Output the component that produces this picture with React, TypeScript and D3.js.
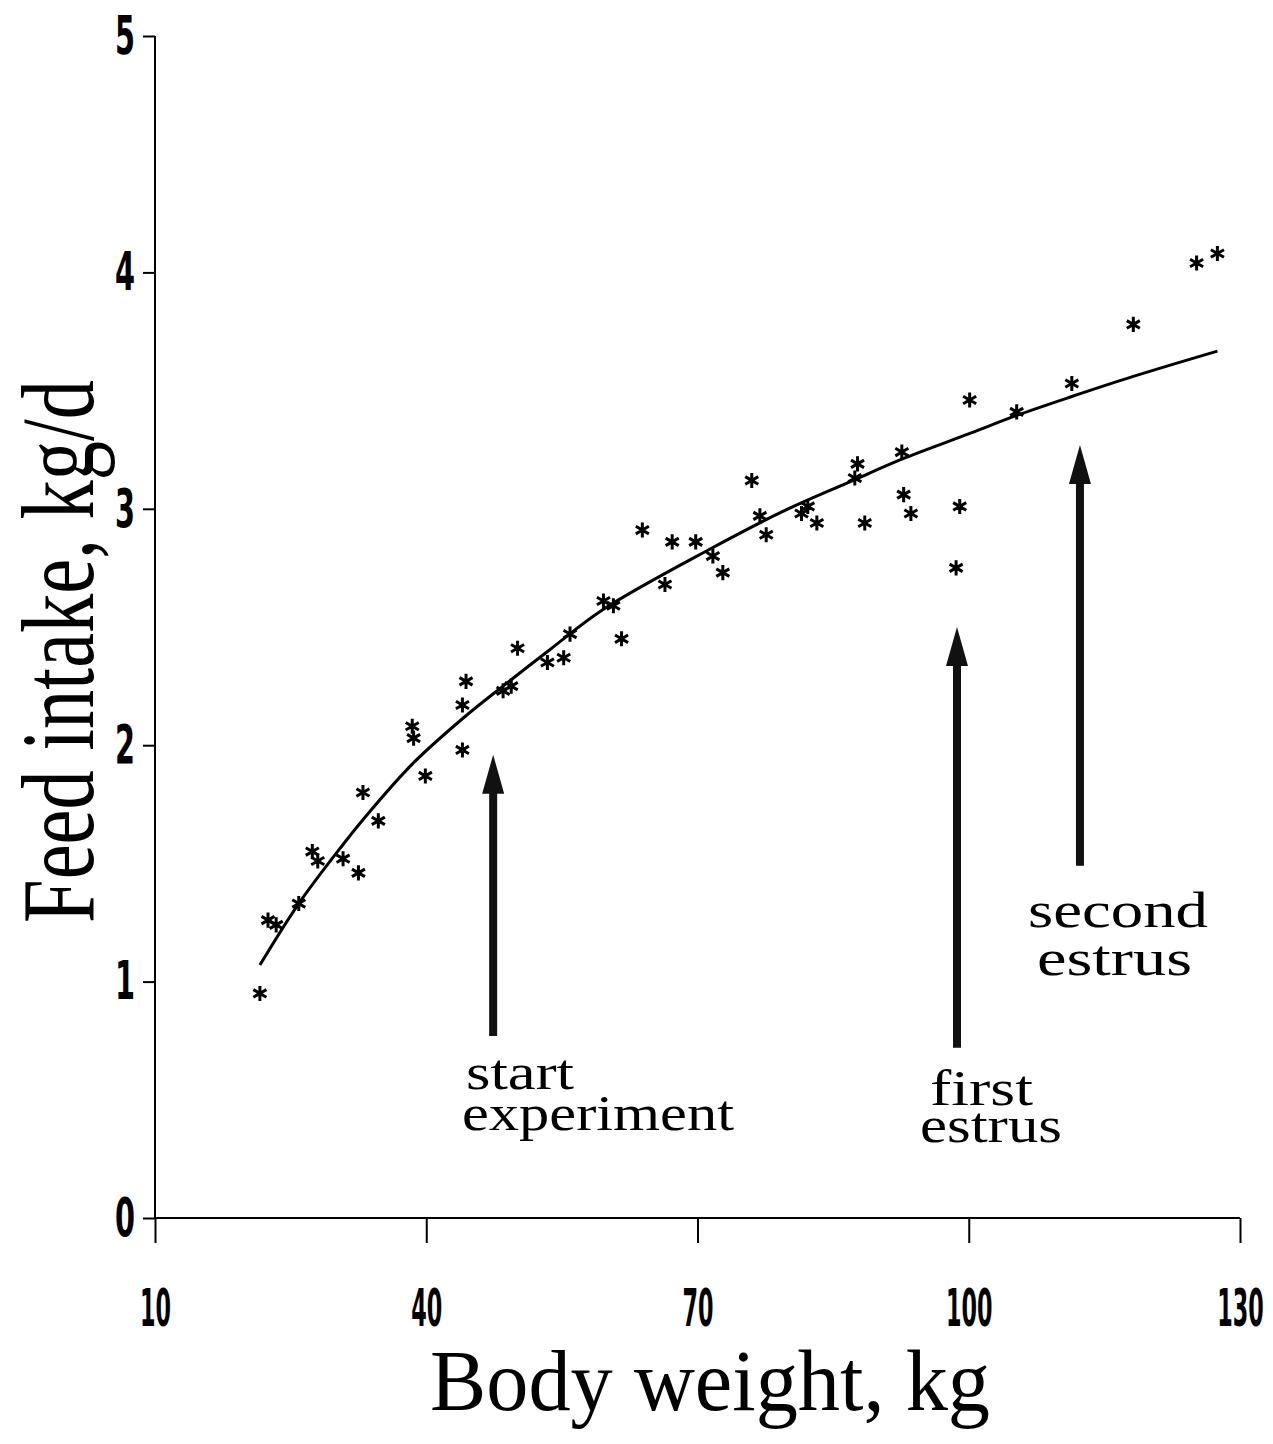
import React, { useEffect, useRef } from "react";
import { scaleLinear, axisBottom, axisLeft, select, line, curveCatmullRom, symbol, symbolAsterisk } from "d3";

// observed points
const bodyWeight = [21.6, 22.5, 23.4, 25.9, 27.4, 28.0, 30.8, 32.5, 33.0, 34.7, 38.45, 38.6, 39.9, 44.0, 44.0, 44.4, 48.5, 49.4, 50.1, 53.4, 55.2, 55.9, 59.6, 60.7, 61.6, 63.9, 66.4, 67.2, 69.8, 71.7, 72.8, 76.0, 76.9, 77.6, 81.5, 82.2, 83.2, 87.4, 87.7, 88.5, 92.6, 92.8, 93.6, 98.6, 99.0, 100.1, 105.3, 111.4, 118.2, 125.2, 127.5];
const feedIntake = [0.95, 1.26, 1.24, 1.33, 1.55, 1.51, 1.52, 1.46, 1.8, 1.68, 2.08, 2.03, 1.87, 1.98, 2.17, 2.27, 2.23, 2.25, 2.41, 2.35, 2.37, 2.47, 2.61, 2.59, 2.45, 2.91, 2.68, 2.86, 2.86, 2.8, 2.73, 3.12, 2.97, 2.89, 2.98, 3.01, 2.94, 3.13, 3.19, 2.94, 3.24, 3.06, 2.98, 2.75, 3.01, 3.46, 3.41, 3.53, 3.78, 4.04, 4.08];

// fitted curve
const fitWeight = [21.6, 25.9, 30.8, 33.0, 38.45, 44.1, 48.5, 53.7, 59.6, 71.4, 79.5, 86.9, 92.6, 100.2, 105.3, 111.4, 118.2, 127.5];
const fitIntake = [1.07, 1.33, 1.58, 1.685, 1.92, 2.115, 2.25, 2.405, 2.575, 2.83, 2.99, 3.115, 3.21, 3.32, 3.395, 3.475, 3.56, 3.667];

const xTicks = [10, 40, 70, 100, 130];
const yTicks = [0, 1, 2, 3, 4, 5];

// arrows: x, tip, base (data units)
const arrowX = [47.4, 98.7, 112.3];
const arrowTip = [1.96, 2.5, 3.27];
const arrowBase = [0.77, 0.72, 1.49];

const W = 1273;
const H = 1444;

export default function App() {
  const xAxisRef = useRef<SVGGElement>(null);
  const yAxisRef = useRef<SVGGElement>(null);

  const x = scaleLinear().domain([10, 130]).range([155, 1240]);
  const y = scaleLinear().domain([0, 5]).range([1218, 36]);

  const tickFont = "'Liberation Sans Narrow', 'DejaVu Sans Condensed', 'Roboto Condensed', Arial, sans-serif";

  useEffect(() => {
    const gx = select(xAxisRef.current);
    gx.call(axisBottom(x).tickValues(xTicks).tickSize(25).tickSizeOuter(0).tickPadding(46).tickFormat((d: any) => String(d)));
    gx.selectAll("path, line").attr("stroke", "#000").attr("stroke-width", 2);
    gx.selectAll("text")
      .attr("fill", "#000")
      .attr("font-family", tickFont)
      .attr("font-weight", "bold")
      .attr("font-size", 52)
      .attr("textLength", (d: any) => String(d).length * 15.5)
      .attr("lengthAdjust", "spacingAndGlyphs");

    const gy = select(yAxisRef.current);
    gy.call(axisLeft(y).tickValues(yTicks).tickSize(12).tickSizeOuter(0).tickPadding(8).tickFormat((d: any) => String(d)));
    gy.selectAll("path, line").attr("stroke", "#000").attr("stroke-width", 2);
    gy.selectAll("text")
      .attr("fill", "#000")
      .attr("font-family", tickFont)
      .attr("font-weight", "bold")
      .attr("font-size", 54)
      .attr("textLength", 20)
      .attr("lengthAdjust", "spacingAndGlyphs");
    gx.select(".domain").remove();
    gy.select(".domain").remove();
  }, []);

  const fitLine = line<number>()
    .x((_, i) => x(fitWeight[i]))
    .y((d) => y(d))
    .curve(curveCatmullRom.alpha(0.5));

  const star = symbol().type(symbolAsterisk).size(160)();

  const arrowPath = (i: number) => {
    const px = x(arrowX[i]);
    const tip = y(arrowTip[i]);
    const base = y(arrowBase[i]);
    const hl = 39, hw = 11, sw = 4;
    return `M${px - sw},${base}L${px - sw},${tip + hl}L${px - hw},${tip + hl}L${px},${tip}L${px + hw},${tip + hl}L${px + sw},${tip + hl}L${px + sw},${base}Z`;
  };

  const serif = "'Liberation Serif', 'Times New Roman', serif";

  return (
    <svg width={W} height={H} style={{ position: "absolute", left: 0, top: 0, background: "#fff" }}>
      {/* axis lines */}
      <line x1={x(10)} x2={x(10)} y1={y(5)} y2={y(0)} stroke="#000" strokeWidth={2} />
      <line x1={x(10)} x2={x(130)} y1={y(0)} y2={y(0)} stroke="#000" strokeWidth={2} />
      <g ref={xAxisRef} transform={`translate(0,${y(0)})`} />
      <g ref={yAxisRef} transform={`translate(${x(10)},0)`} />

      {/* fitted curve */}
      <path d={fitLine(fitIntake) || ""} fill="none" stroke="#000" strokeWidth={3} />

      {/* points */}
      {bodyWeight.map((bw, i) => (
        <path key={i} d={star || ""} transform={`translate(${x(bw)},${y(feedIntake[i])})`} stroke="#000" strokeWidth={3} fill="#000" />
      ))}

      {/* arrows */}
      {arrowX.map((_, i) => (
        <path key={i} d={arrowPath(i)} fill="#111" />
      ))}

      {/* annotations */}
      <g fontFamily={serif} fontSize={50} fill="#000">
        <text x={466} y={1089} textLength={108} lengthAdjust="spacingAndGlyphs">start</text>
        <text x={462} y={1130} textLength={272} lengthAdjust="spacingAndGlyphs">experiment</text>
        <text x={930} y={1105} textLength={103} lengthAdjust="spacingAndGlyphs">first</text>
        <text x={920} y={1142} textLength={142} lengthAdjust="spacingAndGlyphs">estrus</text>
        <text x={1028} y={927} textLength={180} lengthAdjust="spacingAndGlyphs">second</text>
        <text x={1037} y={975} textLength={155} lengthAdjust="spacingAndGlyphs">estrus</text>
      </g>

      {/* axis titles */}
      <text x={430} y={1410} fontFamily={serif} fontSize={86} textLength={560} lengthAdjust="spacingAndGlyphs" fill="#000">
        Body weight, kg
      </text>
      <text transform="translate(93,923) rotate(-90)" fontFamily={serif} fontSize={104} textLength={543} lengthAdjust="spacingAndGlyphs" fill="#000">
        Feed intake, kg/d
      </text>
    </svg>
  );
}
